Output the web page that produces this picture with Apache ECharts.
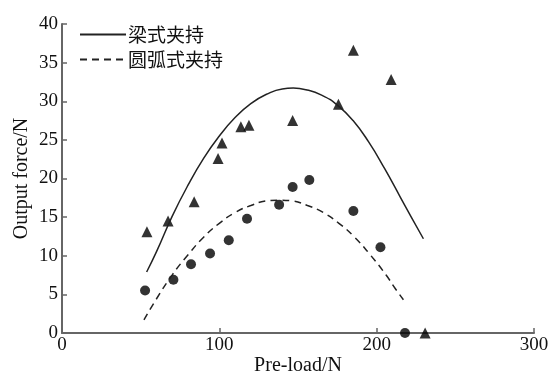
<!DOCTYPE html>
<html>
<head>
<meta charset="utf-8">
<script src="https://cdn.jsdelivr.net/npm/echarts@6/dist/echarts.min.js"></script>
<style>html,body{margin:0;padding:0;background:#fff;}#c{width:554px;height:374px;}</style>
</head>
<body>
<div id="c"></div>
<script>
// Measured points: triangles (梁式夹持)
var beamPoints = [[54,13.1],[67.4,14.5],[84,17],[99.2,22.6],[101.7,24.6],[113.7,26.7],[118.8,26.9],[146.6,27.5],[175.7,29.6],[185.2,36.6],[209.2,32.8],[230.8,0]];
// Measured points: circles (圆弧式夹持)
var arcPoints = [[52.8,5.5],[70.8,6.9],[82,8.9],[94.1,10.3],[106,12.0],[117.6,14.8],[138,16.6],[146.6,18.9],[157.2,19.8],[185.2,15.8],[202.4,11.1],[218,0]];
// Fitted curve (solid)
var beamCurve = [[53.8,7.9],[60,10.5],[70,15.1],[80,19.1],[90,22.6],[100,25.5],[110,27.9],[120,29.7],[130,30.9],[140,31.6],[147,31.7],[155,31.5],[165,30.8],[175,29.5],[185,27.5],[195,24.7],[205,21.3],[215,17.6],[222,15.0],[229.7,12.2]];
// Fitted curve (dashed)
var arcCurve = [[52.1,1.7],[60,4.4],[70,7.5],[80,10.1],[90,12.4],[100,14.2],[110,15.6],[120,16.5],[130,17.1],[138,17.2],[146,17.1],[156,16.5],[166,15.6],[176,14.2],[186,12.4],[196,10.1],[206,7.5],[212,5.7],[217,4.3]];
var legendNames = ['梁式夹持','圆弧式夹持'];
var xName = 'Pre-load/N';
var yName = 'Output force/N';

var chart = echarts.init(document.getElementById('c'), null, {renderer:'canvas'});
var axisColor = '#666';
var serif = '"Liberation Serif","DejaVu Serif",serif';
chart.setOption({
  animation:false,
  backgroundColor:'#fff',
  grid:{left:62,right:20,top:24,bottom:41,containLabel:false,outerBoundsMode:'none'},
  legend:{
    orient:'vertical', left:74, top:20, itemWidth:46, itemHeight:14, itemGap:6,
    data:legendNames,
    itemStyle:{opacity:0},
    textStyle:{fontFamily:'"Noto Sans CJK SC"',fontSize:19,color:'#111',padding:[0,0,0,-3]}
  },
  xAxis:{
    type:'value',min:0,max:300,interval:100,
    name:xName,nameLocation:'middle',nameGap:23,nameMoveOverlap:false,
    nameTextStyle:{fontFamily:serif,fontSize:20,color:'#111'},
    axisLine:{show:true,lineStyle:{color:axisColor,width:2}},
    axisTick:{show:true,inside:true,length:5,lineStyle:{color:axisColor,width:1.5}},
    axisLabel:{fontFamily:serif,fontSize:19,color:'#111',margin:3},
    splitLine:{show:false}
  },
  yAxis:{
    type:'value',min:0,max:40,interval:5,
    name:yName,nameLocation:'middle',nameGap:30,nameMoveOverlap:false,
    nameTextStyle:{fontFamily:serif,fontSize:20,color:'#111'},
    axisLine:{show:true,lineStyle:{color:axisColor,width:2}},
    axisTick:{show:true,inside:true,length:5,lineStyle:{color:axisColor,width:1.5}},
    axisLabel:{fontFamily:serif,fontSize:19,color:'#111',margin:4},
    splitLine:{show:false}
  },
  series:[
    {name:legendNames[0],type:'line',data:beamCurve,smooth:true,showSymbol:false,symbol:'none',
     lineStyle:{color:'#222',width:1.5},itemStyle:{color:'#222'}},
    {name:legendNames[1],type:'line',data:arcCurve,smooth:true,showSymbol:false,symbol:'none',
     lineStyle:{color:'#222',width:1.5,type:[7,5]},itemStyle:{color:'#222'}},
    {name:'beamPts',type:'scatter',data:beamPoints,symbol:'triangle',symbolSize:11,itemStyle:{color:'#000'}},
    {name:'arcPts',type:'scatter',data:arcPoints,symbol:'circle',symbolSize:10,itemStyle:{color:'#000'}}
  ]
});
</script>
</body>
</html>
